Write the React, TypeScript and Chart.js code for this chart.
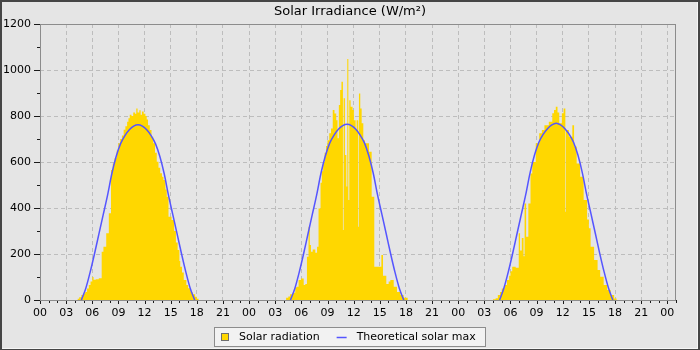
import React, { useEffect, useRef } from "react";
import { Chart, registerables } from "chart.js";

Chart.register(...registerables);

// ---------- text ----------
const TITLE = "Solar Irradiance (W/m²)";
const SERIES_RAD = "Solar radiation";
const SERIES_MAX = "Theoretical solar max";
const HOUR_LABELS = ["00", "03", "06", "09", "12", "15", "18", "21"];

// ---------- axes ----------
const X_MIN_HOURS = 0;
const X_MAX_HOURS = 73;
const Y_MIN = 0;
const Y_MAX = 1200;
const Y_LABEL_STEP = 200;
const Y_MINOR_STEP = 100;
const DAY_OFFSETS = [0, 24, 48];

// ---------- measured solar radiation (W/m²): hour of day where a level starts, and the level ----------
const rad1Hours = [4.3, 4.5, 4.75, 5.0, 5.2, 5.4, 5.6, 5.8, 6.0, 6.15, 6.4, 6.75, 7.08, 7.28, 7.6, 7.9, 8.15, 8.35, 8.55, 8.8, 9.0, 9.2, 9.4, 9.6, 9.8, 10.0, 10.15, 10.3, 10.5, 10.7, 10.9, 11.05, 11.2, 11.4, 11.55, 11.7, 11.9, 12.1, 12.25, 12.4, 12.6, 12.8, 13.0, 13.2, 13.4, 13.6, 13.8, 14.0, 14.17, 14.4, 14.55, 14.75, 15.1, 15.4, 15.6, 15.8, 16.0, 16.1, 16.3, 16.5, 16.8, 17.0, 17.3, 17.5, 17.8, 18.0, 18.2];
const rad1Watts = [5, 12, 22, 28, 35, 50, 65, 80, 100, 88, 90, 95, 210, 232, 290, 377, 565, 594, 616, 650, 681, 700, 715, 740, 755, 775, 790, 805, 800, 815, 810, 833, 815, 825, 805, 820, 810, 800, 785, 760, 739, 710, 681, 640, 601, 575, 551, 536, 522, 480, 449, 362, 348, 300, 250, 217, 170, 145, 120, 87, 65, 51, 35, 25, 14, 5, 0];

const rad2Hours = [4.25, 4.5, 4.7, 5.0, 5.3, 5.5, 5.68, 5.95, 6.27, 6.45, 6.64, 6.82, 6.97, 7.1, 7.3, 7.6, 7.8, 7.97, 8.2, 8.35, 8.5, 8.67, 8.83, 9.0, 9.2, 9.4, 9.6, 9.8, 10.0, 10.15, 10.3, 10.45, 10.6, 10.77, 10.85, 11.0, 11.16, 11.27, 11.39, 11.5, 11.65, 11.88, 12.03, 12.23, 12.34, 12.53, 12.61, 12.76, 12.92, 13.11, 13.3, 13.76, 14.07, 14.37, 15.18, 15.37, 15.75, 16.02, 16.21, 16.6, 16.98, 17.36, 17.74, 18.2];
const rad2Watts = [10, 15, 25, 32, 55, 58, 87, 94, 65, 70, 188, 319, 239, 210, 220, 205, 232, 398, 510, 560, 600, 640, 670, 695, 725, 746, 826, 811, 782, 703, 848, 913, 949, 304, 877, 630, 493, 1048, 435, 869, 840, 826, 782, 739, 782, 319, 898, 833, 768, 695, 681, 645, 449, 145, 196, 105, 70, 80, 87, 58, 35, 22, 10, 0];

const rad3Hours = [4.0, 4.3, 4.55, 4.8, 5.0, 5.3, 5.6, 5.85, 6.0, 6.2, 6.6, 6.95, 7.1, 7.3, 7.5, 7.62, 7.8, 8.05, 8.3, 8.5, 8.9, 9.3, 9.6, 9.9, 10.4, 10.8, 11.0, 11.2, 11.4, 11.6, 11.9, 12.1, 12.3, 12.37, 12.7, 13.1, 13.3, 13.6, 14.0, 14.4, 14.8, 15.0, 15.2, 15.6, 16.0, 16.3, 16.7, 17.1, 17.5, 17.9, 18.2];
const rad3Watts = [3, 8, 22, 35, 50, 65, 87, 105, 125, 145, 140, 290, 215, 270, 190, 420, 275, 420, 550, 600, 681, 725, 739, 760, 775, 812, 826, 840, 815, 768, 812, 833, 384, 739, 710, 760, 667, 594, 536, 435, 350, 312, 232, 174, 130, 101, 65, 43, 22, 7, 0];

// ---------- theoretical solar max (W/m²), read every half hour ----------
const theoHours = [4.75, 5.25, 5.75, 6.25, 6.75, 7.25, 7.75, 8.25, 8.75, 9.25, 9.75, 10.25, 10.75, 11.25, 11.75, 12.25, 12.75, 13.25, 13.75, 14.25, 14.75, 15.25, 15.75, 16.25, 16.75, 17.25, 17.75];
const theo1Watts = [0, 50, 120, 200, 285, 370, 455, 550, 625, 680, 715, 740, 756, 762, 756, 740, 715, 680, 625, 550, 455, 370, 285, 200, 120, 50, 0];
const theo2Watts = [0, 50, 120, 200, 286, 371, 456, 551, 626, 682, 717, 742, 758, 764, 758, 742, 717, 682, 626, 551, 456, 371, 286, 200, 120, 50, 0];
const theo3Watts = [0, 52, 122, 202, 288, 373, 458, 553, 629, 685, 720, 745, 761, 768, 761, 745, 720, 685, 629, 553, 458, 373, 288, 202, 122, 52, 0];

// ---------- style ----------
const FONT = '"DejaVu Sans", "Liberation Sans", sans-serif';
const GOLD = "#ffd700";
const BLUE = "#5555ff";
const BG = "#e5e5e5";
const GRID = "#bdbdbd";
const FRAME = "#8c8c8c";

const radDays: [number, number[], number[]][] = [
  [DAY_OFFSETS[0], rad1Hours, rad1Watts],
  [DAY_OFFSETS[1], rad2Hours, rad2Watts],
  [DAY_OFFSETS[2], rad3Hours, rad3Watts],
];
const theoDays: [number, number[]][] = [
  [DAY_OFFSETS[0], theo1Watts],
  [DAY_OFFSETS[1], theo2Watts],
  [DAY_OFFSETS[2], theo3Watts],
];

const radPoints = radDays.flatMap(([off, hs, ws]) => hs.map((h, i) => ({ x: off + h, y: ws[i] })));
const theoPoints: { x: number; y: number | null }[] = [];
theoDays.forEach(([off, ws]) => {
  theoHours.forEach((h, i) => theoPoints.push({ x: off + h, y: ws[i] }));
  theoPoints.push({ x: off + 21, y: null });
});

const xTickValues: number[] = [];
for (let v = X_MIN_HOURS; v <= X_MAX_HOURS; v += 1) xTickValues.push(v);
const yTickValues: number[] = [];
for (let v = Y_MIN; v <= Y_MAX; v += Y_MINOR_STEP) yTickValues.push(v);

const decorPlugin = {
  id: "decor",
  beforeDraw(chart: any) {
    const { ctx, width, height } = chart;
    ctx.save();
    ctx.fillStyle = "#454545";
    ctx.fillRect(0, 0, width, height);
    ctx.fillStyle = "#f6f6f6";
    ctx.fillRect(2, 2, width - 4, height - 3);
    ctx.fillStyle = BG;
    ctx.fillRect(2, 2, width - 5, height - 4);
    ctx.restore();
  },
  afterDatasetsDraw(chart: any) {
    const { ctx, chartArea: a, scales } = chart;
    ctx.save();
    ctx.lineWidth = 1;
    ctx.strokeStyle = "#1a1a1a";
    ctx.beginPath();
    scales.x.ticks.forEach((t: any) => {
      const px = Math.round(scales.x.getPixelForValue(t.value)) + 0.5;
      const len = t.value % 3 === 0 ? 4 : 3;
      ctx.moveTo(px, a.bottom);
      ctx.lineTo(px, a.bottom + len);
    });
    scales.y.ticks.forEach((t: any) => {
      const py = Math.round(scales.y.getPixelForValue(t.value)) + 0.5;
      const len = t.value % Y_LABEL_STEP === 0 ? 6 : 3;
      ctx.moveTo(a.left, py);
      ctx.lineTo(a.left - len, py);
    });
    ctx.stroke();
    ctx.strokeStyle = FRAME;
    ctx.strokeRect(Math.round(a.left) + 0.5, Math.round(a.top) + 0.5, Math.round(a.right - a.left) - 1, Math.round(a.bottom - a.top));
    ctx.restore();
  },
  afterDraw(chart: any) {
    const { ctx, width, chartArea: a } = chart;
    ctx.save();
    // title
    ctx.fillStyle = "#000";
    ctx.font = `13px ${FONT}`;
    ctx.textAlign = "center";
    ctx.textBaseline = "middle";
    ctx.fillText(TITLE, width / 2, 11.5);

    // legend
    ctx.font = `11px ${FONT}`;
    const w1 = ctx.measureText(SERIES_RAD).width;
    const w2 = ctx.measureText(SERIES_MAX).width;
    const padL = 7, sq = 8, gap1 = 10, gapItems = 17, lineLen = 10, gap2 = 10, padR = 10;
    const boxW = Math.round(padL + sq + gap1 + w1 + gapItems + lineLen + gap2 + w2 + padR);
    const boxH = 20;
    const left = Math.round(width / 2 - boxW / 2);
    const top = Math.round(a.bottom + 27);
    ctx.fillStyle = "#f2f2f2";
    ctx.fillRect(left, top, boxW, boxH);
    ctx.strokeStyle = FRAME;
    ctx.lineWidth = 1;
    ctx.strokeRect(left + 0.5, top + 0.5, boxW - 1, boxH - 1);
    const cy = top + boxH / 2;
    let x = left + padL;
    ctx.fillStyle = GOLD;
    ctx.fillRect(x, Math.round(cy - sq / 2), sq, sq);
    ctx.strokeStyle = "#6e6e6e";
    ctx.strokeRect(x + 0.5, Math.round(cy - sq / 2) + 0.5, sq - 1, sq - 1);
    x += sq + gap1;
    ctx.fillStyle = "#000";
    ctx.textAlign = "left";
    ctx.textBaseline = "middle";
    ctx.fillText(SERIES_RAD, x, cy);
    x += w1 + gapItems;
    ctx.strokeStyle = BLUE;
    ctx.lineWidth = 1.5;
    ctx.beginPath();
    ctx.moveTo(x, Math.round(cy) + 0.5);
    ctx.lineTo(x + lineLen, Math.round(cy) + 0.5);
    ctx.stroke();
    x += lineLen + gap2;
    ctx.fillText(SERIES_MAX, x, cy);
    ctx.restore();
  },
};

export default function App() {
  const ref = useRef<HTMLCanvasElement>(null);
  useEffect(() => {
    const canvas = ref.current;
    if (!canvas) return;
    const chart = new Chart(canvas, {
      type: "line",
      data: {
        datasets: [
          {
            label: SERIES_MAX,
            data: theoPoints as any,
            borderColor: BLUE,
            borderWidth: 1.5,
            pointRadius: 0,
            fill: false,
            cubicInterpolationMode: "monotone",
            spanGaps: false,
            order: 0,
          },
          {
            label: SERIES_RAD,
            data: radPoints as any,
            borderColor: "rgba(0,0,0,0)",
            borderWidth: 0,
            backgroundColor: GOLD,
            fill: "origin",
            stepped: "before",
            pointRadius: 0,
            order: 1,
          },
        ],
      },
      options: {
        responsive: false,
        animation: false,
        devicePixelRatio: 1,
        events: [],
        layout: { padding: { top: 24, right: 24, bottom: 28, left: 0 } },
        plugins: {
          legend: { display: false },
          title: { display: false },
          tooltip: { enabled: false },
        },
        scales: {
          x: {
            type: "linear",
            min: X_MIN_HOURS,
            max: X_MAX_HOURS,
            afterBuildTicks: (s: any) => {
              s.ticks = xTickValues.map((v) => ({ value: v }));
            },
            afterFit: (s: any) => {
              s.height = 22;
            },
            grid: {
              drawTicks: false,
              lineWidth: 1,
              color: (c: any) => (c.tick && c.tick.value % 3 === 0 && c.tick.value !== X_MIN_HOURS ? GRID : "rgba(0,0,0,0)"),
            },
            border: { display: false, dash: [4, 3] },
            ticks: {
              autoSkip: false,
              maxRotation: 0,
              minRotation: 0,
              padding: 7,
              color: "#000",
              font: { family: FONT, size: 11 },
              callback: (v: any) => (Number(v) % 3 === 0 ? HOUR_LABELS[(Number(v) % 24) / 3] : ""),
            },
          },
          y: {
            type: "linear",
            min: Y_MIN,
            max: Y_MAX,
            afterBuildTicks: (s: any) => {
              s.ticks = yTickValues.map((v) => ({ value: v }));
            },
            afterFit: (s: any) => {
              s.width = 40;
            },
            grid: {
              drawTicks: false,
              lineWidth: 1,
              color: (c: any) => (c.tick && c.tick.value % Y_LABEL_STEP === 0 && c.tick.value !== Y_MIN && c.tick.value !== Y_MAX ? GRID : "rgba(0,0,0,0)"),
            },
            border: { display: false, dash: [4, 3] },
            ticks: {
              autoSkip: false,
              padding: 9,
              color: "#000",
              font: { family: FONT, size: 11 },
              callback: (v: any) => (Number(v) % Y_LABEL_STEP === 0 ? String(v) : ""),
            },
          },
        },
      },
      plugins: [decorPlugin],
    });
    return () => chart.destroy();
  }, []);
  return (
    <div style={{ position: "fixed", left: 0, top: 0, width: 700, height: 350 }}>
      <canvas ref={ref} width={700} height={350} style={{ display: "block", width: 700, height: 350 }} />
    </div>
  );
}
